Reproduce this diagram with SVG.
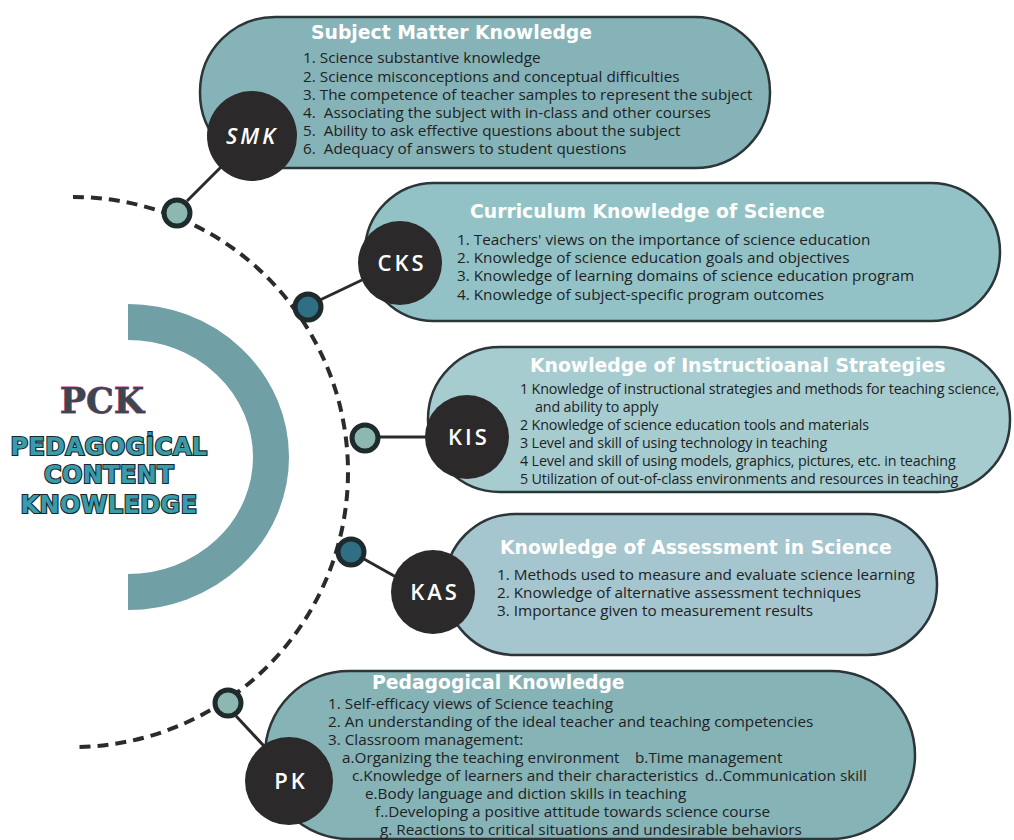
<svg xmlns="http://www.w3.org/2000/svg" width="1014" height="840" viewBox="0 0 1014 840">
  <defs>
    <style>
      .pill { stroke: #2c3537; stroke-width: 2.5; }
      .hub { fill: #2b2929; }
      .hubtxt { fill: #ffffff; font-family: "Open Sans", "Liberation Sans", sans-serif; font-weight: 600; font-size: 22px; letter-spacing: 3px; text-anchor: middle; }
      .title { fill: #ffffff; font-family: "DejaVu Sans", "Liberation Sans", sans-serif; font-weight: 700; font-size: 18.8px; }
      .item { fill: #1e2224; font-family: "Open Sans", "Liberation Sans", sans-serif; font-size: 15.3px; white-space: pre; }
      .cond { font-size: 14.3px; letter-spacing: -0.15px; }
      .dot { stroke: #1f2a2d; stroke-width: 5; }
      .light { fill: #8db7b1; }
      .dark { fill: #2e6f84; }
      .link { stroke: #2b2b2b; stroke-width: 3; fill: none; }
      .dash { stroke: #2b2b2b; stroke-width: 4; fill: none; stroke-dasharray: 11 7; }
      .big { font-family: "DejaVu Sans", "Liberation Sans", sans-serif; font-weight: 700; font-size: 24px; letter-spacing: 0.4px; text-anchor: middle; fill: #3a9bab; stroke: #17282c; stroke-width: 2.2; paint-order: stroke; }
    </style>
  </defs>

  <rect width="1014" height="840" fill="#ffffff"/>

  <!-- central PCK emblem -->
  <g id="pck">
    <path d="M128 322 A143 135 0 0 1 128 592" fill="none" stroke="#709fa5" stroke-width="36"/>
    <text x="102" y="413" font-family="DejaVu Serif, Liberation Serif, serif" font-weight="900" font-size="35" text-anchor="middle" fill="#3b474c" stroke="#c03a9a" stroke-width="0.8" paint-order="stroke">PCK</text>
    <text class="big" x="109" y="455">PEDAGOGİCAL</text>
    <text class="big" x="109" y="483">CONTENT</text>
    <text class="big" x="109" y="513">KNOWLEDGE</text>
  </g>

  <!-- dashed orbit, spokes and orbit nodes -->
  <g id="connectors">
    <path class="dash" d="M73 197 A273 273 0 0 1 73 747"/>
    <line class="link" x1="187" y1="201" x2="222" y2="166"/>
    <line class="link" x1="320" y1="300" x2="362" y2="280"/>
    <line class="link" x1="380" y1="437" x2="428" y2="437"/>
    <line class="link" x1="364" y1="559" x2="396" y2="577"/>
    <line class="link" x1="236" y1="716" x2="264" y2="746"/>
    <circle class="dot light" cx="177" cy="213" r="13"/>
    <circle class="dot dark" cx="308" cy="307" r="13"/>
    <circle class="dot light" cx="365" cy="438" r="13"/>
    <circle class="dot dark" cx="351" cy="552" r="13"/>
    <circle class="dot light" cx="228" cy="703" r="13"/>
  </g>

  <!-- Subject Matter Knowledge -->
  <g id="smk">
    <rect class="pill" x="200" y="17" width="570" height="151" rx="75" fill="#85b3b7"/>
    <circle class="hub" cx="252" cy="136" r="45"/>
    <text class="hubtxt" x="252" y="144" font-style="italic">SMK</text>
    <text class="title" x="311" y="39">Subject Matter Knowledge</text>
    <text class="item" x="303" y="63">1. Science substantive knowledge</text>
    <text class="item" x="303" y="82">2. Science misconceptions and conceptual difficulties</text>
    <text class="item" x="303" y="100">3. The competence of teacher samples to represent the subject</text>
    <text class="item" x="303" y="118">4.  Associating the subject with in-class and other courses</text>
    <text class="item" x="303" y="136">5.  Ability to ask effective questions about the subject</text>
    <text class="item" x="303" y="154">6.  Adequacy of answers to student questions</text>
  </g>

  <!-- Curriculum Knowledge of Science -->
  <g id="cks">
    <rect class="pill" x="365" y="183" width="635" height="138" rx="69" fill="#93c2c6"/>
    <circle class="hub" cx="400" cy="263" r="42"/>
    <text class="hubtxt" x="402" y="271">CKS</text>
    <text class="title" x="470" y="218" font-size="18px">Curriculum Knowledge of Science</text>
    <text class="item" x="457" y="245" font-size="16.8">1. Teachers' views on the importance of science education</text>
    <text class="item" x="457" y="263" font-size="16.8">2. Knowledge of science education goals and objectives</text>
    <text class="item" x="457" y="281" font-size="16.8">3. Knowledge of learning domains of science education program</text>
    <text class="item" x="457" y="300" font-size="16.8">4. Knowledge of subject-specific program outcomes</text>
  </g>

  <!-- Knowledge of Instructional Strategies -->
  <g id="kis">
    <rect class="pill" x="428" y="347" width="582" height="145" rx="72" fill="#a6ccd0"/>
    <circle class="hub" cx="467" cy="437" r="42"/>
    <text class="hubtxt" x="469" y="445">KIS</text>
    <text class="title" x="530" y="372" font-size="18px">Knowledge of Instructioanal Strategies</text>
    <text class="item cond" x="520" y="394">1 Knowledge of instructional strategies and methods for teaching science,</text>
    <text class="item cond" x="535" y="412">and ability to apply</text>
    <text class="item cond" x="520" y="430">2 Knowledge of science education tools and materials</text>
    <text class="item cond" x="520" y="448">3 Level and skill of using technology in teaching</text>
    <text class="item cond" x="520" y="466">4 Level and skill of using models, graphics, pictures, etc. in teaching</text>
    <text class="item cond" x="520" y="484">5 Utilization of out-of-class environments and resources in teaching</text>
  </g>

  <!-- Knowledge of Assessment in Science -->
  <g id="kas">
    <rect class="pill" x="445" y="514" width="492" height="141" rx="70" fill="#a5c5cf"/>
    <circle class="hub" cx="433" cy="592" r="42"/>
    <text class="hubtxt" x="435" y="600">KAS</text>
    <text class="title" x="500" y="554">Knowledge of Assessment in Science</text>
    <text class="item" x="497" y="580">1. Methods used to measure and evaluate science learning</text>
    <text class="item" x="497" y="598">2. Knowledge of alternative assessment techniques</text>
    <text class="item" x="497" y="616">3. Importance given to measurement results</text>
  </g>

  <!-- Pedagogical Knowledge -->
  <g id="pk">
    <rect class="pill" x="265" y="671" width="650" height="168" rx="84" fill="#86b3b6"/>
    <circle class="hub" cx="289" cy="781" r="44"/>
    <text class="hubtxt" x="291" y="789">PK</text>
    <text class="title" x="372" y="689">Pedagogical Knowledge</text>
    <text class="item" x="328" y="709">1. Self-efficacy views of Science teaching</text>
    <text class="item" x="328" y="727">2. An understanding of the ideal teacher and teaching competencies</text>
    <text class="item" x="328" y="745">3. Classroom management:</text>
    <text class="item" x="342" y="763">a.Organizing the teaching environment</text>
    <text class="item" x="635" y="763">b.Time management</text>
    <text class="item" x="352" y="781">c.Knowledge of learners and their characteristics</text>
    <text class="item" x="705" y="781">d..Communication skill</text>
    <text class="item" x="365" y="799">e.Body language and diction skills in teaching</text>
    <text class="item" x="375" y="817">f..Developing a positive attitude towards science course</text>
    <text class="item" x="380" y="835">g. Reactions to critical situations and undesirable behaviors</text>
  </g>
</svg>
